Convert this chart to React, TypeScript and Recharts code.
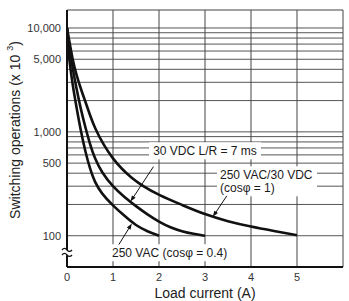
import React from 'react';
import { LineChart, Line, XAxis, YAxis, ReferenceLine, ReferenceDot, Label } from 'recharts';

const FONT = '"Liberation Sans", Arial, Helvetica, sans-serif';

// ---- axes / grid ----
const xTicks = [0, 1, 2, 3, 4, 5];
const yTicks = [100, 500, 1000, 5000, 10000];
const gridY = [100, 200, 300, 400, 500, 600, 700, 800, 900, 1000, 2000, 3000, 4000, 5000, 6000, 7000, 8000, 9000, 10000];
const gridX = [1, 2, 3, 4, 5];
const X_MIN = 0;
const X_MAX = 6;
const Y_MIN = 50;
const Y_MAX = 14900;
const BREAK_Y = 69;

// ---- series (x = load current A, y = switching operations x10^3) ----
const series250VACcos04 = [
  { x: 0, y: 10000 }, { x: 0.03, y: 6000 }, { x: 0.08, y: 3800 }, { x: 0.15, y: 2400 },
  { x: 0.22, y: 1600 }, { x: 0.3, y: 1020 }, { x: 0.4, y: 640 }, { x: 0.5, y: 440 },
  { x: 0.6, y: 330 }, { x: 0.75, y: 255 }, { x: 1.0, y: 195 }, { x: 1.25, y: 155 },
  { x: 1.5, y: 125 }, { x: 1.75, y: 110 }, { x: 2, y: 100 },
];
const series30VDC = [
  { x: 0, y: 10000 }, { x: 0.04, y: 7000 }, { x: 0.1, y: 4600 }, { x: 0.2, y: 2700 },
  { x: 0.3, y: 1650 }, { x: 0.4, y: 1100 }, { x: 0.5, y: 760 }, { x: 0.6, y: 560 },
  { x: 0.75, y: 410 }, { x: 1.0, y: 295 }, { x: 1.25, y: 235 }, { x: 1.5, y: 192 },
  { x: 1.75, y: 160 }, { x: 2, y: 136 }, { x: 2.25, y: 120 }, { x: 2.5, y: 110 },
  { x: 2.75, y: 104 }, { x: 3, y: 100 },
];
const series250VACcos1 = [
  { x: 0, y: 10000 }, { x: 0.05, y: 7500 }, { x: 0.12, y: 5000 }, { x: 0.2, y: 3600 },
  { x: 0.3, y: 2600 }, { x: 0.4, y: 1950 }, { x: 0.5, y: 1450 }, { x: 0.6, y: 1100 },
  { x: 0.8, y: 740 }, { x: 1.0, y: 550 }, { x: 1.2, y: 435 }, { x: 1.4, y: 362 },
  { x: 1.6, y: 310 }, { x: 2, y: 245 }, { x: 2.5, y: 198 }, { x: 3, y: 160 },
  { x: 3.5, y: 137 }, { x: 4, y: 122 }, { x: 4.5, y: 111 }, { x: 5, y: 101 },
];

// ---- annotations (anchor in data coords) ----
const noteTexts = [
  ['30 VDC L/R = 7 ms'],
  ['250 VAC/30 VDC', '(cos\u03c6 = 1)'],
  ['250 VAC (cos\u03c6 = 0.4)'],
];
const noteAnchorsX = [3.0, 3.326, 0.978];
const noteAnchorsY = [657, 386, 68.6];
const arrowTipsX = [1.38, 3.17, 1.41];
const arrowTipsY = [213, 152, 131];

// styling for annotations (pixels)
const noteStyle = [
  { anchor: 'middle', boxW: 112, boxX: -56 },
  { anchor: 'start', boxW: 100, boxX: -3 },
  { anchor: 'start', boxW: 120, boxX: -3 },
];
const arrowOffsets = [
  { dx: 23, dy: -35 },
  { dx: 14, dy: -21 },
  { dx: -13, dy: 21 },
];

const fmt = (v: number) => v.toLocaleString('en-US');

const ArrowShape = (p: any) => {
  const { cx, cy, dx, dy } = p;
  if (cx == null || cy == null) return <g />;
  const len = Math.hypot(dx, dy);
  const ux = dx / len, uy = dy / len;
  const hl = 6, hw = 2.2;
  const bx = cx + ux * hl, by = cy + uy * hl;
  const px = -uy, py = ux;
  return (
    <g>
      <line x1={cx + ux * 3} y1={cy + uy * 3} x2={cx + dx} y2={cy + dy} stroke="#111" strokeWidth={1} />
      <polygon points={`${cx},${cy} ${bx + px * hw},${by + py * hw} ${bx - px * hw},${by - py * hw}`} fill="#111" />
    </g>
  );
};

const NoteShape = (p: any) => {
  const { cx, cy, lines, st } = p;
  if (cx == null || cy == null) return <g />;
  const lh = 13;
  const h = lines.length * lh + 4;
  return (
    <g>
      <rect x={cx + st.boxX} y={cy - lh / 2 - 2} width={st.boxW} height={h} fill="#fff" />
      {lines.map((t: string, i: number) => (
        <text key={i} x={cx} y={cy + i * lh} textAnchor={st.anchor} dominantBaseline="central"
          fontSize={12} fontFamily={FONT} fill="#1a1a1a">{t}</text>
      ))}
    </g>
  );
};

const BreakShape = (p: any) => {
  const { cx, cy } = p;
  if (cx == null || cy == null) return <g />;
  const w = (dy: number) => `M${cx - 5},${cy + dy} q2.5,-3 5,0 t5,0`;
  return (
    <g>
      <path d={w(-2.5)} stroke="#111" strokeWidth={1.3} fill="none" />
      <path d={w(2.5)} stroke="#111" strokeWidth={1.3} fill="none" />
    </g>
  );
};

const renderYTitle = () => (
  <text transform="translate(15,130) rotate(-90)" textAnchor="middle" dominantBaseline="central"
    fontSize={14} fontFamily={FONT} fill="#222">
    Switching operations (x 10 <tspan fontSize={9} dy={-5}>3</tspan><tspan dy={5}>)</tspan>
  </text>
);

const renderXTitle = () => (
  <text x={205} y={298} textAnchor="middle" fontSize={14} fontFamily={FONT} fill="#222">
    Load current (A)
  </text>
);

export default function App() {
  return (
    <div style={{ position: 'absolute', left: 0, top: 0, background: '#fff' }}>
      <LineChart width={349} height={301} margin={{ top: 10, right: 6, bottom: 10, left: 0 }}>
        <XAxis type="number" dataKey="x" domain={[X_MIN, X_MAX]} ticks={xTicks} allowDataOverflow
          tickLine={false} tickSize={4} tickMargin={2} height={24}
          axisLine={{ stroke: '#111', strokeWidth: 2 }}
          tick={{ fontSize: 11, fontFamily: FONT, fill: '#333' }}>
          <Label content={renderXTitle} />
        </XAxis>
        <YAxis type="number" dataKey="y" scale="log" domain={[Y_MIN, Y_MAX]} ticks={yTicks} allowDataOverflow
          tickLine={false} tickSize={4} tickMargin={2} width={67} axisLine={false}
          tickFormatter={fmt}
          tick={{ fontSize: 11, fontFamily: FONT, fill: '#333' }}>
          <Label content={renderYTitle} />
        </YAxis>

        {gridY.map((v) => (
          <ReferenceLine key={'gy' + v} y={v} stroke="#555" strokeWidth={1} />
        ))}
        {gridX.map((v) => (
          <ReferenceLine key={'gx' + v} x={v} stroke="#444" strokeWidth={1} />
        ))}
        <ReferenceLine x={X_MAX} stroke="#444" strokeWidth={1} />
        <ReferenceLine y={Y_MAX} stroke="#444" strokeWidth={1.2} />

        {noteTexts.map((lines, i) => (
          <ReferenceDot key={'n' + i} x={noteAnchorsX[i]} y={noteAnchorsY[i]} r={1}
            shape={(p: any) => <NoteShape cx={p.cx} cy={p.cy} lines={lines} st={noteStyle[i]} />} />
        ))}

        <ReferenceLine segment={[{ x: 0, y: Y_MAX }, { x: 0, y: 73 }]} stroke="#111" strokeWidth={2} />
        <ReferenceLine segment={[{ x: 0, y: 65 }, { x: 0, y: Y_MIN }]} stroke="#111" strokeWidth={2} />
        <ReferenceDot x={0} y={BREAK_Y} r={1} shape={(p: any) => <BreakShape cx={p.cx} cy={p.cy} />} />

        <Line data={series250VACcos04} dataKey="y" type="basis" stroke="#111" strokeWidth={2.6}
          dot={false} isAnimationActive={false} />
        <Line data={series30VDC} dataKey="y" type="basis" stroke="#111" strokeWidth={2.6}
          dot={false} isAnimationActive={false} />
        <Line data={series250VACcos1} dataKey="y" type="basis" stroke="#111" strokeWidth={2.6}
          dot={false} isAnimationActive={false} />

        {arrowTipsX.map((x, i) => (
          <ReferenceDot key={'a' + i} x={x} y={arrowTipsY[i]} r={1}
            shape={(p: any) => <ArrowShape cx={p.cx} cy={p.cy} dx={arrowOffsets[i].dx} dy={arrowOffsets[i].dy} />} />
        ))}
      </LineChart>
    </div>
  );
}
